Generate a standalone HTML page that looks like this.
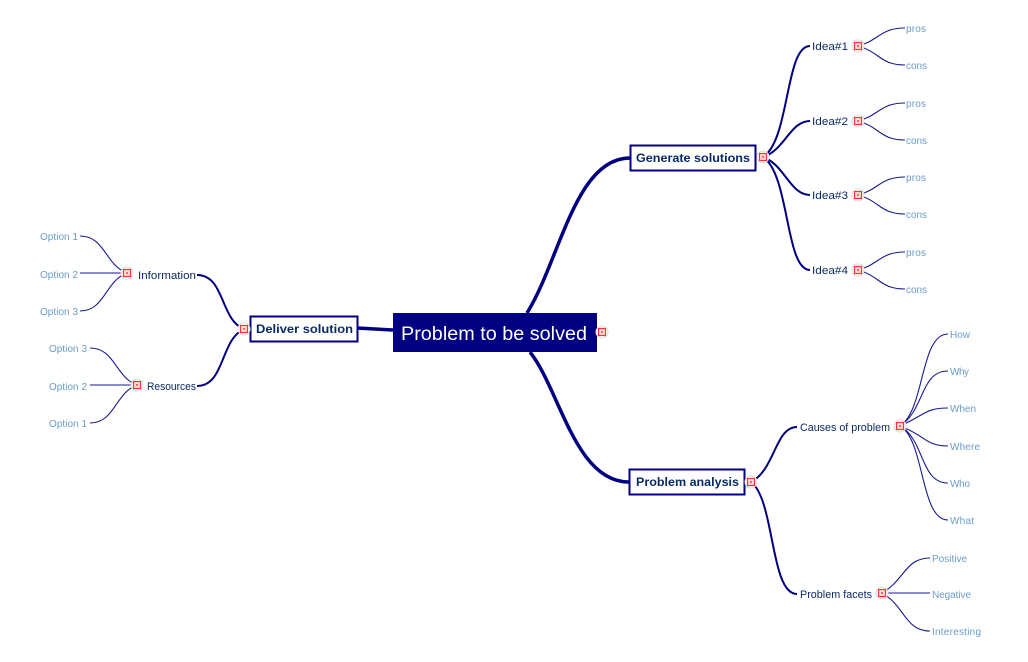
<!DOCTYPE html>
<html><head><meta charset="utf-8"><style>
html,body{margin:0;padding:0;background:#fff;}
svg{display:block;}
text{font-family:"Liberation Sans",sans-serif;}
.lbl{font-size:11px;fill:#0a2a66;}
.leaf{font-size:10px;fill:#6a9ccc;}
.b{font-size:12px;font-weight:bold;fill:#0a2a66;}
.thick{fill:none;stroke:#000080;stroke-width:3.5;}
.mid{fill:none;stroke:#000080;stroke-width:2;}
.thin{fill:none;stroke:#1a1a8a;stroke-width:1.1;}
</style></head><body>
<svg width="1028" height="662" viewBox="0 0 1028 662" xmlns="http://www.w3.org/2000/svg">
<defs>
<g id="ex"><circle r="6" fill="#fff" stroke="#ddd" stroke-width="1"/><rect x="-3.5" y="-3.5" width="7" height="7" fill="#fdd" stroke="#f33" stroke-width="1.2"/><rect x="-1" y="-1" width="2" height="2" fill="#f66"/></g>
</defs>
<path class="thick" d="M527 313 C560 260,575 158,630 158"/>
<path class="thick" d="M530 352 C560 390,575 482,629 482"/>
<path class="thick" d="M357 328 L393 330"/>
<path class="mid" d="M763 157 C790 140,785 46,810 46"/>
<path class="mid" d="M763 157 C785 150,790 121,810 121"/>
<path class="mid" d="M763 157 C785 165,790 195,810 195"/>
<path class="mid" d="M763 157 C790 175,785 270,810 270"/>
<g class="thin">
<path d="M858 46 C880 40,880 28,905 28"/><path d="M858 46 C880 52,880 65,905 65"/>
<path d="M858 121 C880 115,880 103,905 103"/><path d="M858 121 C880 127,880 140,905 140"/>
<path d="M858 195 C880 189,880 177,905 177"/><path d="M858 195 C880 201,880 214,905 214"/>
<path d="M858 270 C880 264,880 252,905 252"/><path d="M858 270 C880 276,880 289,905 289"/>
</g>
<path class="mid" d="M751 482 C775 470,775 427,797 427"/>
<path class="mid" d="M751 482 C775 500,770 594,797 594"/>
<g class="thin">
<path d="M900 426 C925 410,920 334,948 334"/>
<path d="M900 426 C925 410,920 371,948 371"/>
<path d="M900 426 C925 415,925 408,948 408"/>
<path d="M900 426 C925 435,925 446,948 446"/>
<path d="M900 426 C925 440,920 483,948 483"/>
<path d="M900 426 C925 440,920 520,948 520"/>
<path d="M882 593 C905 580,905 558,930 558"/>
<path d="M882 593 L930 593"/>
<path d="M882 593 C905 606,905 631,930 631"/>
</g>
<path class="mid" d="M244 329 C220 320,225 275,197 275"/>
<path class="mid" d="M244 329 C220 340,225 386,197 386"/>
<g class="thin">
<path d="M127 273 C105 265,105 236,80 236"/><path d="M127 273 L80 273"/><path d="M127 273 C105 281,105 311,80 311"/>
<path d="M137 385 C115 377,115 348,90 348"/><path d="M137 385 L90 385"/><path d="M137 385 C115 393,115 423,90 423"/>
</g>
<rect x="393" y="313" width="204" height="39" fill="#000080"/>
<text x="401" y="340" textLength="186" lengthAdjust="spacingAndGlyphs" style="font-size:19px;fill:#fff">Problem to be solved</text>
<rect x="630.5" y="145.5" width="125" height="25" fill="#fff" stroke="#000080" stroke-width="2"/>
<text class="b" x="636" y="162" textLength="114" lengthAdjust="spacingAndGlyphs">Generate solutions</text>
<rect x="629.5" y="469.5" width="115" height="25" fill="#fff" stroke="#000080" stroke-width="2"/>
<text class="b" x="636" y="486" textLength="103" lengthAdjust="spacingAndGlyphs">Problem analysis</text>
<rect x="250.5" y="316.5" width="107" height="25" fill="#fff" stroke="#000080" stroke-width="2"/>
<text class="b" x="256" y="333" textLength="97" lengthAdjust="spacingAndGlyphs">Deliver solution</text>
<text class="lbl" x="812" y="50" textLength="36" lengthAdjust="spacingAndGlyphs">Idea#1</text>
<text class="lbl" x="812" y="125" textLength="36" lengthAdjust="spacingAndGlyphs">Idea#2</text>
<text class="lbl" x="812" y="199" textLength="36" lengthAdjust="spacingAndGlyphs">Idea#3</text>
<text class="lbl" x="812" y="274" textLength="36" lengthAdjust="spacingAndGlyphs">Idea#4</text>
<g class="leaf">
<text x="906" y="32" textLength="20">pros</text><text x="906" y="69" textLength="21">cons</text>
<text x="906" y="107" textLength="20">pros</text><text x="906" y="144" textLength="21">cons</text>
<text x="906" y="181" textLength="20">pros</text><text x="906" y="218" textLength="21">cons</text>
<text x="906" y="256" textLength="20">pros</text><text x="906" y="293" textLength="21">cons</text>
<text x="950" y="338" textLength="20">How</text><text x="950" y="375" textLength="19">Why</text><text x="950" y="412" textLength="26">When</text>
<text x="950" y="450" textLength="30">Where</text><text x="950" y="487" textLength="20">Who</text><text x="950" y="524" textLength="24">What</text>
<text x="932" y="562" textLength="35">Positive</text><text x="932" y="598" textLength="39">Negative</text><text x="932" y="635" textLength="49">Interesting</text>
<text x="40" y="240" textLength="38">Option 1</text><text x="40" y="278" textLength="38">Option 2</text><text x="40" y="315" textLength="38">Option 3</text>
<text x="49" y="352" textLength="38">Option 3</text><text x="49" y="390" textLength="38">Option 2</text><text x="49" y="427" textLength="38">Option 1</text>
</g>
<text class="lbl" x="800" y="431" textLength="90" lengthAdjust="spacingAndGlyphs">Causes of problem</text>
<text class="lbl" x="800" y="598" textLength="72" lengthAdjust="spacingAndGlyphs">Problem facets</text>
<text class="lbl" x="138" y="279" textLength="58" lengthAdjust="spacingAndGlyphs">Information</text>
<text class="lbl" x="147" y="390" textLength="49" lengthAdjust="spacingAndGlyphs">Resources</text>
<use href="#ex" x="602" y="332"/>
<use href="#ex" x="763" y="157"/>
<use href="#ex" x="751" y="482"/>
<use href="#ex" x="244" y="329"/>
<use href="#ex" x="858" y="46"/><use href="#ex" x="858" y="121"/><use href="#ex" x="858" y="195"/><use href="#ex" x="858" y="270"/>
<use href="#ex" x="900" y="426"/><use href="#ex" x="882" y="593"/>
<use href="#ex" x="127" y="273"/><use href="#ex" x="137" y="385"/>
</svg>
</body></html>
